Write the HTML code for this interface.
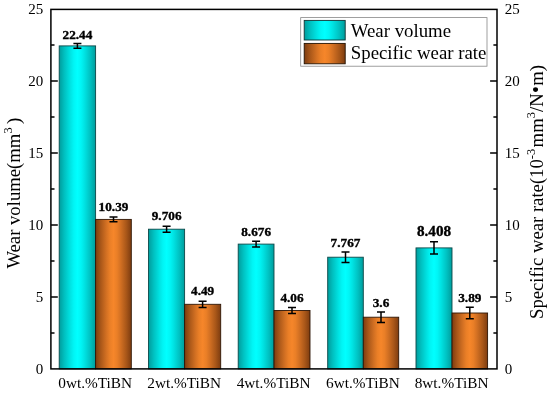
<!DOCTYPE html>
<html><head><meta charset="utf-8"><title>Wear chart</title>
<style>
html,body{margin:0;padding:0;background:#fff;}
svg{display:block;font-family:"Liberation Serif","DejaVu Serif",serif;}
</style></head><body>
<svg width="550" height="393" viewBox="0 0 550 393">
<defs>
<linearGradient id="gt" x1="0" y1="0" x2="1" y2="0">
<stop offset="0.000" stop-color="#009c9c"/><stop offset="0.143" stop-color="#00c0c0"/><stop offset="0.306" stop-color="#00e3e3"/><stop offset="0.400" stop-color="#00f5f5"/><stop offset="0.500" stop-color="#00ffff"/><stop offset="0.600" stop-color="#00f5f5"/><stop offset="0.694" stop-color="#00e3e3"/><stop offset="0.857" stop-color="#00c0c0"/><stop offset="1.000" stop-color="#009c9c"/>
</linearGradient>
<linearGradient id="go" x1="0" y1="0" x2="1" y2="0">
<stop offset="0.000" stop-color="#7d3c10"/><stop offset="0.143" stop-color="#a95719"/><stop offset="0.306" stop-color="#d47123"/><stop offset="0.400" stop-color="#ea7f27"/><stop offset="0.500" stop-color="#f6862a"/><stop offset="0.600" stop-color="#ea7f27"/><stop offset="0.694" stop-color="#d47123"/><stop offset="0.857" stop-color="#a95719"/><stop offset="1.000" stop-color="#7d3c10"/>
</linearGradient>
</defs>
<rect width="550" height="393" fill="#fff"/>
<rect x="59.2" y="45.9" width="36.4" height="323.0" fill="url(#gt)" stroke="#0d4848" stroke-width="0.9"/>
<rect x="95.6" y="219.4" width="35.7" height="149.5" fill="url(#go)" stroke="#2e1606" stroke-width="0.9"/>
<rect x="148.5" y="229.2" width="36.1" height="139.7" fill="url(#gt)" stroke="#0d4848" stroke-width="0.9"/>
<rect x="184.6" y="304.3" width="36.1" height="64.6" fill="url(#go)" stroke="#2e1606" stroke-width="0.9"/>
<rect x="238.2" y="244.1" width="35.8" height="124.8" fill="url(#gt)" stroke="#0d4848" stroke-width="0.9"/>
<rect x="274.0" y="310.5" width="36.0" height="58.4" fill="url(#go)" stroke="#2e1606" stroke-width="0.9"/>
<rect x="327.7" y="257.2" width="35.6" height="111.7" fill="url(#gt)" stroke="#0d4848" stroke-width="0.9"/>
<rect x="363.3" y="317.2" width="35.4" height="51.7" fill="url(#go)" stroke="#2e1606" stroke-width="0.9"/>
<rect x="416.0" y="247.9" width="36.0" height="121.0" fill="url(#gt)" stroke="#0d4848" stroke-width="0.9"/>
<rect x="452.0" y="313.0" width="35.6" height="55.9" fill="url(#go)" stroke="#2e1606" stroke-width="0.9"/>
<g stroke="#000" stroke-width="1.5" fill="none">
<path d="M77.4 43.5V48.2M73.4 43.5H81.4M73.4 48.2H81.4"/>
<path d="M113.5 216.9V221.8M109.5 216.9H117.5M109.5 221.8H117.5"/>
<path d="M166.6 226.2V232.3M162.6 226.2H170.6M162.6 232.3H170.6"/>
<path d="M202.6 301.2V307.4M198.6 301.2H206.6M198.6 307.4H206.6"/>
<path d="M256.1 241.2V247.0M252.1 241.2H260.1M252.1 247.0H260.1"/>
<path d="M292.0 307.5V313.6M288.0 307.5H296.0M288.0 313.6H296.0"/>
<path d="M345.5 252.0V262.4M341.5 252.0H349.5M341.5 262.4H349.5"/>
<path d="M381.0 311.9V322.5M377.0 311.9H385.0M377.0 322.5H385.0"/>
<path d="M434.0 241.8V254.0M430.0 241.8H438.0M430.0 254.0H438.0"/>
<path d="M469.8 307.2V318.7M465.8 307.2H473.8M465.8 318.7H473.8"/>
</g>
<rect x="50.9" y="9.4" width="446.1" height="359.5" fill="none" stroke="#000" stroke-width="1.5"/>
<g stroke="#000" stroke-width="1.35">
<path d="M50.9 333.0h3.6M497.0 333.0h-3.6"/>
<path d="M50.9 297.0h6.9M497.0 297.0h-6.9"/>
<path d="M50.9 261.0h3.6M497.0 261.0h-3.6"/>
<path d="M50.9 225.0h6.9M497.0 225.0h-6.9"/>
<path d="M50.9 189.0h3.6M497.0 189.0h-3.6"/>
<path d="M50.9 153.0h6.9M497.0 153.0h-6.9"/>
<path d="M50.9 117.0h3.6M497.0 117.0h-3.6"/>
<path d="M50.9 81.0h6.9M497.0 81.0h-6.9"/>
<path d="M50.9 45.0h3.6M497.0 45.0h-3.6"/>
</g>
<g font-size="15px" fill="#000">
<text x="43.2" y="373.6" text-anchor="end">0</text>
<text x="504.8" y="373.6">0</text>
<text x="43.2" y="301.6" text-anchor="end">5</text>
<text x="504.8" y="301.6">5</text>
<text x="43.2" y="229.6" text-anchor="end">10</text>
<text x="504.8" y="229.6">10</text>
<text x="43.2" y="157.6" text-anchor="end">15</text>
<text x="504.8" y="157.6">15</text>
<text x="43.2" y="85.6" text-anchor="end">20</text>
<text x="504.8" y="85.6">20</text>
<text x="43.2" y="13.6" text-anchor="end">25</text>
<text x="504.8" y="13.6">25</text>
<text x="95.2" y="388.0" font-size="15.3px" text-anchor="middle">0wt.%TiBN</text>
<text x="184.2" y="388.0" font-size="15.3px" text-anchor="middle">2wt.%TiBN</text>
<text x="273.6" y="388.0" font-size="15.3px" text-anchor="middle">4wt.%TiBN</text>
<text x="362.9" y="388.0" font-size="15.3px" text-anchor="middle">6wt.%TiBN</text>
<text x="451.6" y="388.0" font-size="15.3px" text-anchor="middle">8wt.%TiBN</text>
</g>
<g font-weight="bold" font-size="12.8px" fill="#000" stroke="#000" stroke-width="0.35" text-anchor="middle">
<text transform="translate(77.4,38.8) scale(1.035,1)">22.44</text>
<text transform="translate(113.5,210.7) scale(1.035,1)">10.39</text>
<text transform="translate(166.6,220.2) scale(1.035,1)">9.706</text>
<text transform="translate(202.6,295.2) scale(1.035,1)">4.49</text>
<text transform="translate(256.1,235.6) scale(1.035,1)">8.676</text>
<text transform="translate(292.0,301.7) scale(1.035,1)">4.06</text>
<text transform="translate(345.5,247.2) scale(1.035,1)">7.767</text>
<text transform="translate(381.0,306.7) scale(1.035,1)">3.6</text>
<text transform="translate(434.0,235.6) scale(1.1,1)" font-size="13.8px">8.408</text>
<text transform="translate(469.8,302.4) scale(1.035,1)">3.89</text>
</g>
<rect x="300.7" y="17.6" width="186.3" height="48.6" fill="#fff" stroke="#888" stroke-width="0.8"/>
<rect x="304.2" y="20.4" width="41" height="19.6" fill="url(#gt)" stroke="#133" stroke-width="0.9"/>
<rect x="304.2" y="43.4" width="41" height="20.4" fill="url(#go)" stroke="#210" stroke-width="0.9"/>
<g font-size="18.8px" fill="#000">
<text x="350.8" y="36.9">Wear volume</text>
<text x="350.8" y="59.3">Specific wear rate</text>
</g>
<g font-size="18.7px" fill="#000">
<text transform="translate(20.2,268.6) rotate(-90)">Wear volume(mm<tspan font-size="12.4px" dy="-8.2">3</tspan><tspan dy="8.2" dx="3.4">)</tspan></text>
<text transform="translate(542.8,319) rotate(-90)">Specific wear rate(10<tspan font-size="12.4px" dy="-8.2">-3</tspan><tspan dy="8.2" dx="1.5">mm</tspan><tspan font-size="12.4px" dy="-8.2">3</tspan><tspan dy="8.2" dx="0.2">/N</tspan><tspan dx="0.3" font-size="20px">•</tspan><tspan dx="0.2">m)</tspan></text>
</g>
</svg>
</body></html>
